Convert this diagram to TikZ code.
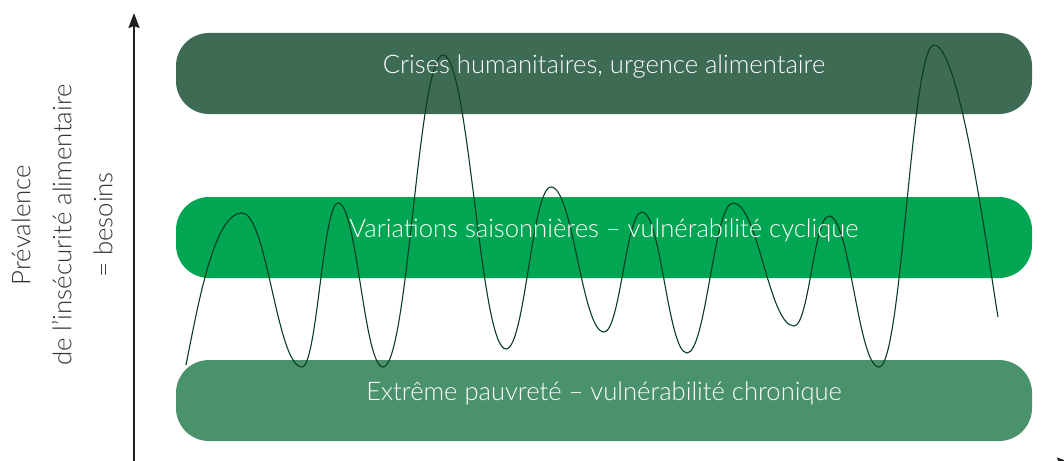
\documentclass[tikz,border=0pt]{standalone}
\usepackage{fontspec}
\setmainfont{Lato Light}
\usepackage{xcolor}
\usetikzlibrary{positioning, arrows.meta, calc}

\definecolor{crisisgreen}{HTML}{3E6B53}
\definecolor{seasongreen}{HTML}{00A651}
\definecolor{povertygreen}{HTML}{4A926B}
\definecolor{wavegreen}{HTML}{0B3D24}
\definecolor{axisgray}{HTML}{231F20}
\definecolor{labelgray}{HTML}{333333}

\tikzset{
  band/.style={rectangle, rounded corners=33pt, minimum width=856pt, minimum height=81pt, inner sep=0pt},
  bandtext/.style={text=white, anchor=base, inner sep=0pt, font=\fontsize{25.6}{30}\selectfont},
  axis/.style={draw=axisgray, line width=2pt, -{Stealth[length=15pt, width=11pt, inset=2pt]}},
  wave/.style={draw=wavegreen, line width=1.1pt}
}

\begin{document}
\begin{tikzpicture}[x=1pt, y=-1pt]
  \useasboundingbox (0,0) rectangle (1064,460);

  % the three levels
  \node[band, fill=crisisgreen] (crisis) at (604,73.5) {};
  \node[band, fill=seasongreen] (seasonal) at (604,237.5) {};
  \node[band, fill=povertygreen] (poverty) at (604,400.5) {};

  % needs over time
  \draw[wave] (186,365)
    .. controls +(12,-60) and +(-28,0) .. (242,213)
    .. controls +(25,0) and +(-25,0) .. (302,367)
    .. controls +(15,0) and +(-15,0) .. (338,203)
    .. controls +(19,0) and +(-19,0) .. (383,367)
    .. controls +(25,0) and +(-25,0) .. (443,55)
    .. controls +(26,0) and +(-26,0) .. (506,349)
    .. controls +(19,0) and +(-19,0) .. (551,187)
    .. controls +(22,0) and +(-22,0) .. (604,332)
    .. controls +(16,0) and +(-16,0) .. (642,212)
    .. controls +(19,0) and +(-19,0) .. (687,353)
    .. controls +(19,0) and +(-19,0) .. (733,203)
    .. controls +(25,0) and +(-25,0) .. (794,326)
    .. controls +(15,0) and +(-15,0) .. (829,216)
    .. controls +(21,0) and +(-21,0) .. (879,367)
    .. controls +(23,0) and +(-23,0) .. (934,45)
    .. controls +(26,0) and +(-10,-60) .. (998,317);

  \node[bandtext] (crisistext) at (crisis.center) {Crises humanitaires, urgence alimentaire};
  \node[bandtext] (seasonaltext) at (seasonal.center) {Variations saisonnières – vulnérabilité cyclique};
  \node[bandtext] (povertytext) at (poverty.center) {Extrême pauvreté – vulnérabilité chronique};

  % axes
  \coordinate (origin) at (134,463);
  \coordinate (ytop) at (134,13);
  \coordinate (xend) at (1072,463);
  \draw[axis] (origin) -- (ytop);
  \draw[axis] (origin) -- (xend);

  \node[rotate=90, align=center, text=labelgray, font=\fontsize{25.8}{41}\selectfont] (ylabel) at (62,225)
    {Prévalence\\de l’insécurité alimentaire\\= besoins};
\end{tikzpicture}
\end{document}
